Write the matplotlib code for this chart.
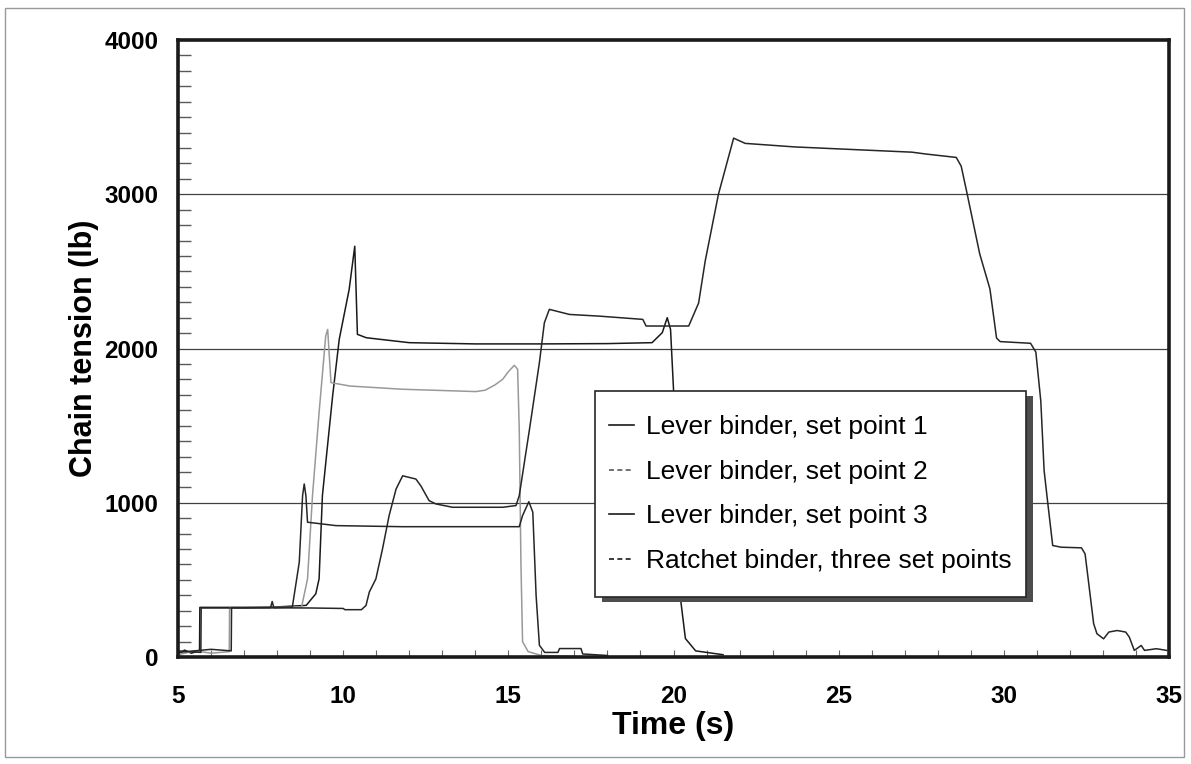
import matplotlib
matplotlib.use("Agg")
import matplotlib.pyplot as plt
from matplotlib.patches import Rectangle
import numpy as np

# values (time in s, tension in lb)
t_set1 = [5.0, 5.2, 5.4, 5.65, 5.66, 7.0, 8.0, 8.88, 9.17, 9.27, 9.37, 9.68, 9.88,
          10.18, 10.35, 10.43, 10.7, 12.0, 14.0, 16.0, 18.0, 19.35, 19.66, 19.81,
          19.91, 20.0, 20.2, 20.36, 20.67, 21.5]
f_set1 = [20, 45, 25, 40, 322, 322, 325, 335, 410, 507, 1046, 1693, 2060,
          2383, 2663, 2092, 2070, 2038, 2030, 2030, 2032, 2038, 2103, 2200,
          2124, 1736, 399, 120, 40, 15]

t_set2 = [5.0, 5.5, 6.0, 6.55, 6.56, 8.0, 8.74, 8.92, 9.07, 9.27, 9.47, 9.53, 9.58,
          9.63, 10.2, 11.8, 14.02, 14.3, 14.6, 14.83, 15.0, 15.18, 15.28, 15.33,
          15.38, 15.43, 15.6, 16.0, 17.0]
f_set2 = [15, 40, 25, 35, 320, 322, 325, 507, 1046, 1585, 2081, 2124, 1950,
          1779, 1757, 1736, 1721, 1730, 1765, 1801, 1850, 1891, 1866, 1477,
          617, 99, 35, 10, 5]

t_set3 = [5.0, 5.69, 5.7, 7.0, 7.8, 7.85, 7.9, 8.46, 8.67, 8.77, 8.82, 8.87, 8.92,
          9.78, 11.8, 15.33, 15.43, 15.62, 15.74, 15.84, 15.94, 16.1, 16.5, 16.55,
          17.2, 17.25, 18.0]
f_set3 = [40, 30, 318, 318, 320, 360, 320, 324, 615, 1046, 1122, 1046, 874,
          852, 845, 845, 917, 1007, 939, 399, 76, 30, 30, 55,
          55, 20, 10]

t_ratchet = [5.0, 6.0, 6.61, 6.62, 9.0, 10.0, 10.05, 10.55, 10.69, 10.79, 10.99,
             11.19, 11.39, 11.6, 11.8, 12.2, 12.35, 12.6, 12.8, 13.31, 14.83,
             15.23, 15.33, 15.64, 15.94, 16.09, 16.24, 16.85, 17.76, 19.07, 19.17,
             20.46, 20.76, 20.96, 21.36, 21.82, 22.17, 23.67, 27.22, 27.64, 28.56,
             28.71, 28.87, 29.27, 29.58, 29.78, 29.89, 30.81, 30.97, 31.12, 31.22,
             31.33, 31.48, 31.74, 32.35, 32.46, 32.56, 32.72, 32.82, 33.02, 33.18,
             33.43, 33.69, 33.8, 33.95, 34.16, 34.26, 34.62, 34.93]
f_ratchet = [30, 50, 40, 320, 318, 315, 307, 307, 334, 421, 507,
             701, 917, 1089, 1175, 1154, 1110, 1014, 993, 971, 971,
             982, 1046, 1477, 1909, 2167, 2254, 2221, 2210, 2189, 2146,
             2146, 2295, 2568, 3000, 3364, 3330, 3307, 3273, 3261, 3239,
             3182, 3023, 2614, 2386, 2068, 2045, 2034, 1977, 1659, 1209,
             1000, 723, 712, 708, 669, 496, 216, 151, 118, 162,
             172, 162, 129, 43, 75, 43, 54, 43]

labels = ["Lever binder, set point 1", "Lever binder, set point 2",
          "Lever binder, set point 3", "Ratchet binder, three set points"]

bold_font = ["Liberation Sans", "DejaVu Sans"]

fig = plt.figure(figsize=(11.91, 7.64), dpi=100)
ax = fig.add_axes([0.1495, 0.14, 0.8320, 0.8076])

# scanned page border
fig.patches.append(Rectangle((0.004, 0.009), 0.99, 0.98, transform=fig.transFigure,
                             fill=False, edgecolor="0.6", linewidth=1.0))

ax.plot(t_set1, f_set1, color="0.1", lw=1.1, label=labels[0])
ax.plot(t_set2, f_set2, color="0.6", lw=1.1, label=labels[1])
ax.plot(t_set3, f_set3, color="0.15", lw=1.1, label=labels[2])
ax.plot(t_ratchet, f_ratchet, color="0.15", lw=1.1, label=labels[3])

ax.set_xlim(5, 35)
ax.set_ylim(0, 4000)
ax.set_xticks(np.arange(5, 36, 5))
ax.set_xticks(np.arange(5, 36, 1), minor=True)
ax.set_yticks(np.arange(0, 4001, 1000))
ax.set_yticks(np.arange(0, 4001, 100), minor=True)

for y in [1000, 2000, 3000]:
    ax.axhline(y, color="0.25", lw=0.9, zorder=1)

for s in ax.spines.values():
    s.set_linewidth(2.6)
    s.set_color("0.1")

ax.tick_params(axis="x", which="both", direction="in", length=5, width=0.8,
               pad=20, color="0.4")
ax.tick_params(axis="y", which="minor", direction="in", length=9, width=1.0,
               color="0.35")
ax.tick_params(axis="y", which="major", direction="in", length=0, pad=14)

for lab in ax.get_xticklabels() + ax.get_yticklabels():
    lab.set_family(bold_font)
    lab.set_fontweight("bold")
    lab.set_fontsize(17.5)

ax.set_xlabel("Time (s)", family=bold_font, fontweight="bold", fontsize=23,
              labelpad=2)
ax.set_ylabel("Chain tension (lb)", family=bold_font, fontweight="bold",
              fontsize=22, labelpad=4)

leg = ax.legend(loc="upper left", bbox_to_anchor=(0.435, 0.392), frameon=False,
                prop={"family": ["Liberation Sans", "DejaVu Sans"], "size": 19},
                handlelength=0.95, handletextpad=0.45, labelspacing=0.78,
                borderpad=0, borderaxespad=0)
for h, ls, c in zip(leg.get_lines(), ["-", (0, (3, 2)), "-", (0, (3, 2))],
                    ["0.1", "0.35", "0.1", "0.1"]):
    h.set_linestyle(ls)
    h.set_color(c)
    h.set_linewidth(1.2)
leg.set_zorder(6)

# legend box with a drop shadow on the right and bottom
fig.canvas.draw()
bb = leg.get_window_extent()
x0, y0 = bb.x0 - 14, bb.y0 - 24
w, h = bb.width + 14 + 14, bb.height + 24 + 24
inv = fig.transFigure.inverted()
(fx0, fy0), (fx1, fy1) = inv.transform([(x0, y0), (x0 + w, y0 + h)])
sx, sy = 7 / 1191, 5 / 764
ax.add_artist(Rectangle((fx0 + sx, fy0 - sy), fx1 - fx0, fy1 - fy0,
                        transform=fig.transFigure, facecolor="0.3",
                        edgecolor="none", zorder=4.5))
ax.add_artist(Rectangle((fx0, fy0), fx1 - fx0, fy1 - fy0,
                        transform=fig.transFigure, facecolor="white",
                        edgecolor="0.15", linewidth=1.2, zorder=5))

fig.savefig("out.png", dpi=100, facecolor="white")
